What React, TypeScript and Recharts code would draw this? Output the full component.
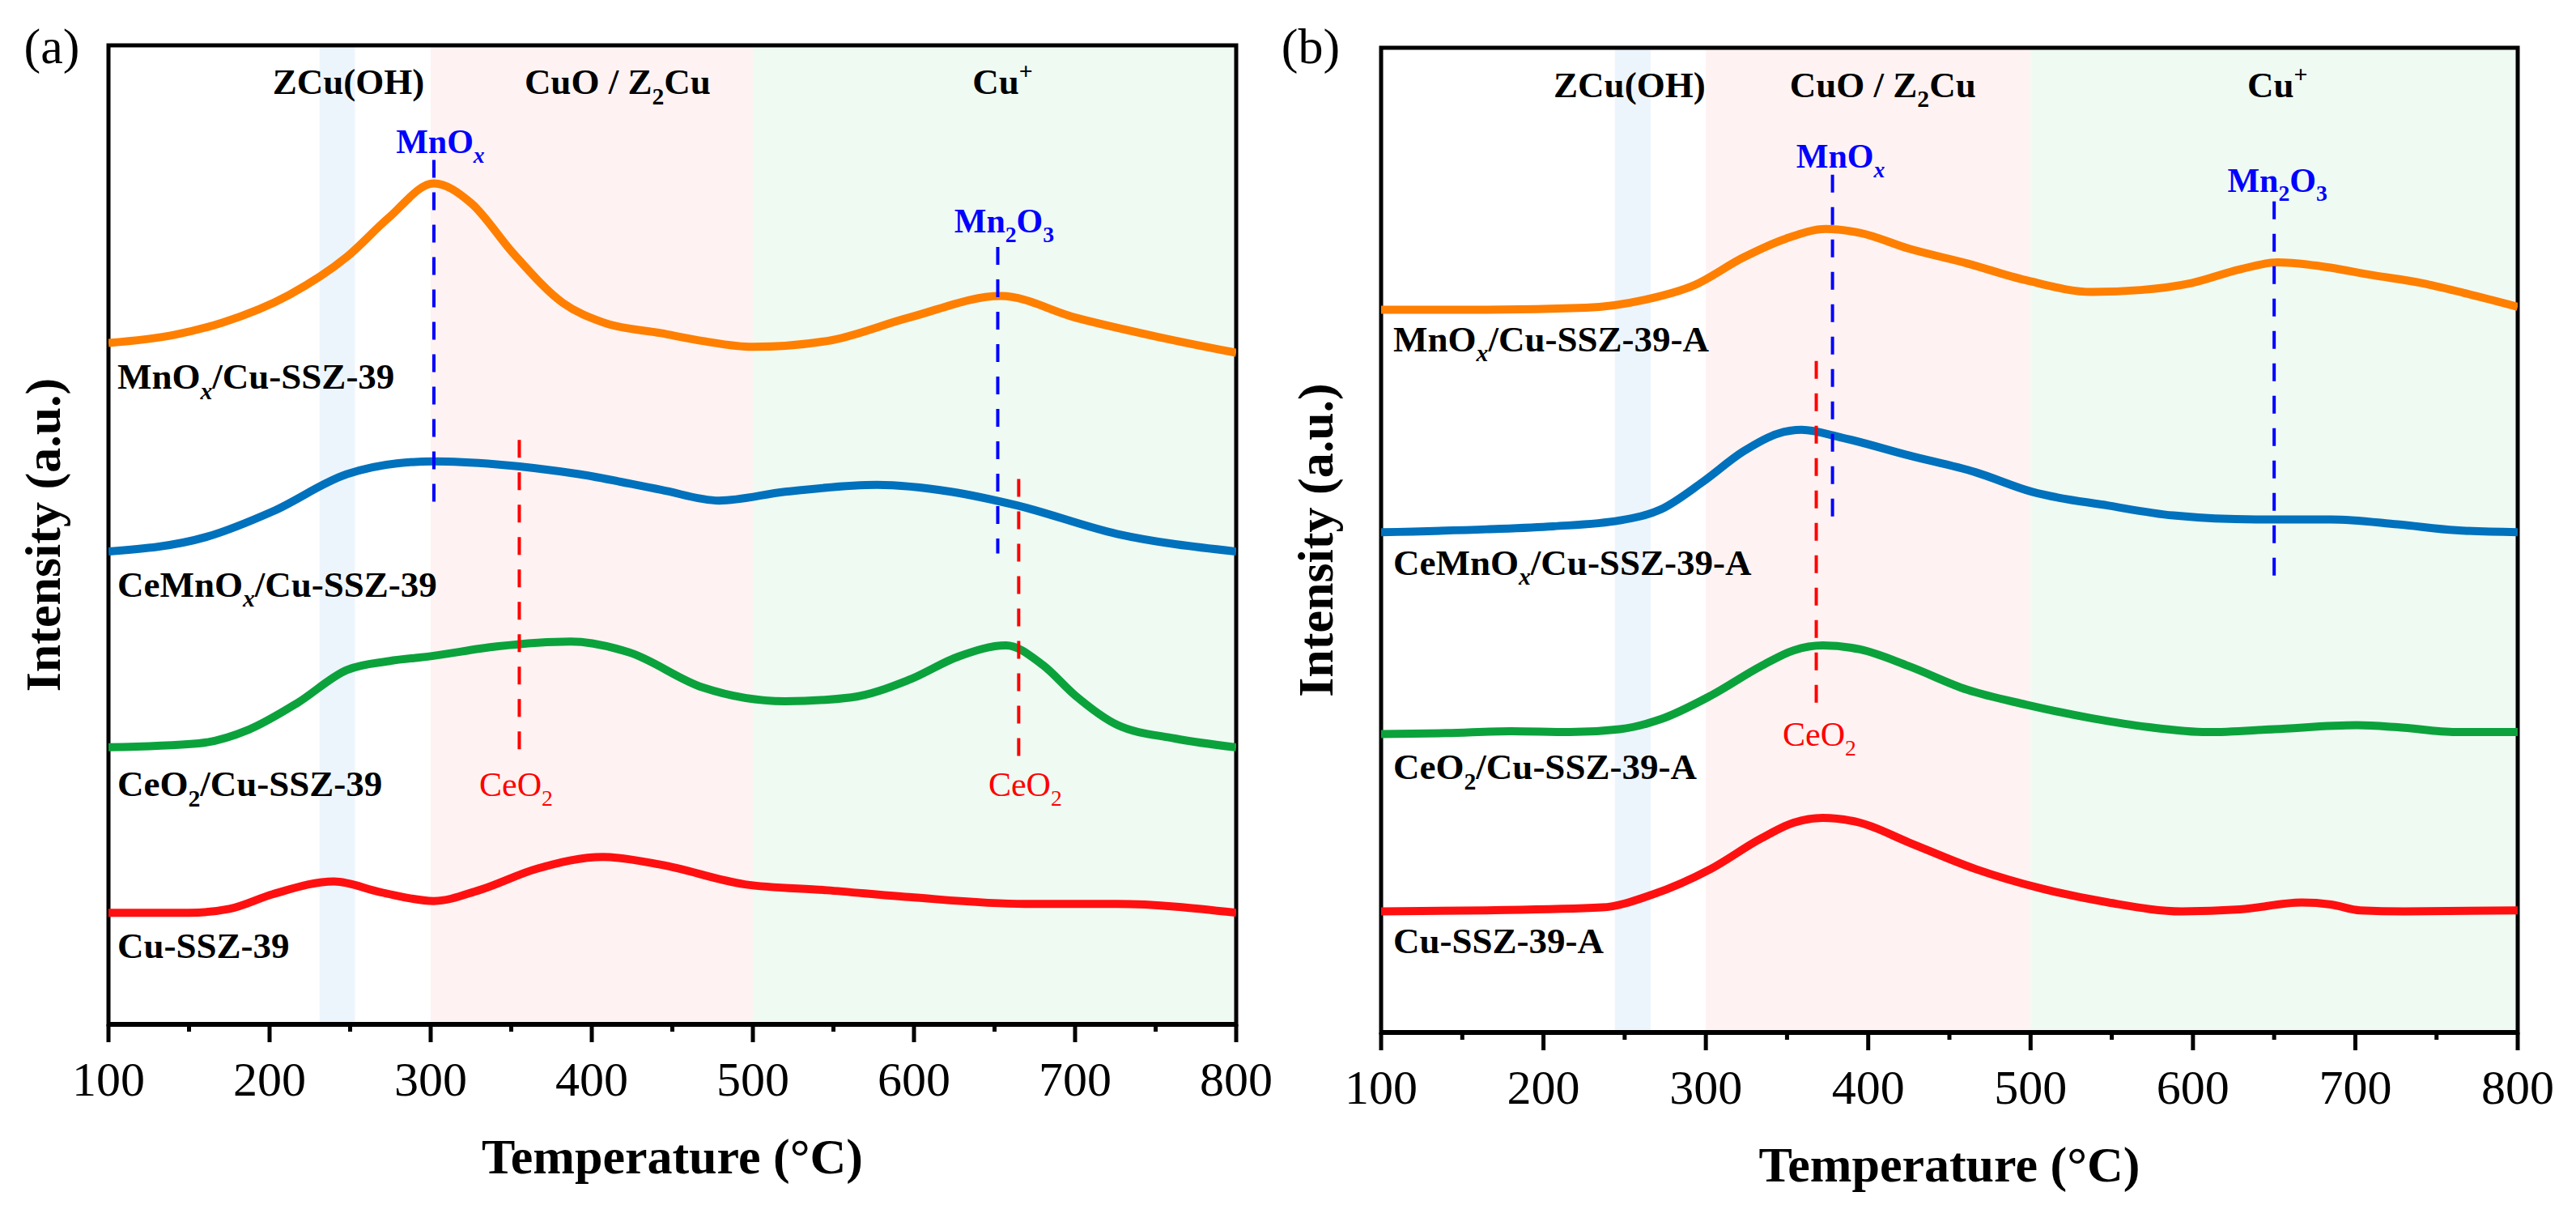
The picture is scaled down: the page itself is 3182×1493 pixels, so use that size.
import React from 'react';
import { LineChart, Line, XAxis, YAxis, ReferenceArea, ReferenceLine, ReferenceDot } from 'recharts';

type Pt = [number, number];

// ---- panel (a): temperature (°C), intensity (a.u., stacked offsets as drawn)
const mnA: Pt[] = [
  [100, 69.6], [140, 70.4], [171, 71.7], [212, 74.5], [248, 78.4], [274, 82.4], [302, 85.9], [325, 83.9],
  [351, 78.8], [382, 73.7], [407, 71.7], [443, 70.6], [469, 69.8], [500, 69.2], [546, 69.8],
  [597, 72.2], [654, 74.4], [700, 72.2], [752, 70.2], [800, 68.6],
];
const ceMnA: Pt[] = [
  [100, 48.3], [161, 49.8], [202, 52.4], [248, 56.2], [279, 57.3], [302, 57.5], [341, 57.2],
  [392, 56.2], [443, 54.6], [479, 53.5], [520, 54.4], [577, 55.1], [623, 54.4], [664, 53.0],
  [726, 50.1], [800, 48.3],
];
const ceA: Pt[] = [
  [100, 28.3], [156, 28.7], [187, 30.1], [217, 32.8], [248, 36.2], [274, 37.1], [300, 37.6],
  [341, 38.6], [387, 39.1], [423, 38.0], [469, 34.4], [520, 33.0], [561, 33.4], [597, 35.2],
  [628, 37.6], [657, 38.7], [680, 36.7], [700, 33.6], [726, 30.6], [762, 29.2], [800, 28.3],
];
const cuA: Pt[] = [
  [100, 11.4], [150, 11.4], [175, 11.8], [202, 13.3], [240, 14.6], [269, 13.5], [302, 12.6], [330, 13.7],
  [366, 15.9], [407, 17.1], [443, 16.3], [495, 14.3], [546, 13.7], [597, 13.0], [669, 12.3],
  [726, 12.3], [800, 11.4],
];

// ---- panel (b)
const mnB: Pt[] = [
  [100, 73.4], [165, 73.4], [226, 73.6], [262, 74.4], [293, 75.9], [323, 78.7], [349, 80.6],
  [374, 81.6], [395, 81.2], [425, 79.6], [461, 78.1], [497, 76.4], [538, 75.2], [568, 75.4],
  [599, 76.1], [629, 77.5], [652, 78.2], [675, 77.9], [711, 76.9], [741, 76.1], [767, 75.1],
  [800, 73.7],
];
const ceMnB: Pt[] = [
  [100, 50.8], [165, 51.1], [206, 51.4], [247, 52.0], [272, 53.1], [298, 55.9], [323, 59.0],
  [344, 60.8], [359, 61.2], [384, 60.4], [425, 58.6], [466, 56.9], [501, 54.9], [548, 53.5],
  [588, 52.5], [639, 52.1], [685, 52.1], [726, 51.6], [762, 51.0], [800, 50.8],
];
const ceB: Pt[] = [
  [100, 30.3], [140, 30.4], [180, 30.6], [216, 30.5], [247, 30.8], [272, 31.8], [303, 34.2],
  [334, 37.2], [354, 38.8], [372, 39.3], [395, 38.9], [425, 37.2], [461, 34.8], [497, 33.3],
  [538, 31.9], [573, 31.0], [609, 30.5], [650, 30.8], [701, 31.2], [726, 31.0], [762, 30.5],
  [800, 30.5],
];
const cuB: Pt[] = [
  [100, 12.3], [165, 12.4], [236, 12.7], [267, 14.0], [303, 16.6], [334, 19.7], [354, 21.3],
  [372, 21.8], [395, 21.3], [425, 19.3], [466, 16.6], [507, 14.6], [548, 13.2], [593, 12.3],
  [629, 12.5], [667, 13.2], [685, 13.0], [703, 12.4], [730, 12.3], [800, 12.4],
];

const xTicks = [100, 150, 200, 250, 300, 350, 400, 450, 500, 550, 600, 650, 700, 750, 800];
const namesA = ['MnO_{x}/Cu-SSZ-39', 'CeMnO_{x}/Cu-SSZ-39', 'CeO_{2}/Cu-SSZ-39', 'Cu-SSZ-39'];
const namesB = ['MnO_{x}/Cu-SSZ-39-A', 'CeMnO_{x}/Cu-SSZ-39-A', 'CeO_{2}/Cu-SSZ-39-A', 'Cu-SSZ-39-A'];
const regions = ['ZCu(OH)', 'CuO / Z_{2}Cu', 'Cu^{+}'];

const colors = ['#FF7F00', '#0071BC', '#0BA23C', '#FF1010'];
const FONT = "'Liberation Serif', 'Times New Roman', serif";

const parseRich = (s: string) => {
  const parts: { t: string; k: string }[] = [];
  const re = /([_^])\{([^}]*)\}/g;
  let last = 0;
  let m: RegExpExecArray | null;
  while ((m = re.exec(s))) {
    if (m.index > last) parts.push({ t: s.slice(last, m.index), k: '' });
    parts.push({ t: m[2], k: m[1] });
    last = re.lastIndex;
  }
  if (last < s.length) parts.push({ t: s.slice(last), k: '' });
  return parts;
};

const richText = (s: string, fs: number) => {
  let shift = 0;
  return parseRich(s).map((p, i) => {
    const target = p.k === '_' ? fs * 0.28 : p.k === '^' ? -fs * 0.4 : 0;
    const dy = target - shift;
    shift = target;
    return (
      <tspan key={i} dy={dy} fontSize={p.k ? fs * 0.66 : fs}
        fontStyle={p.k && /[a-z]/.test(p.t) ? 'italic' : undefined}>
        {p.t}
      </tspan>
    );
  });
};

const textShape = (s: string, fs: number, fill: string, anchor: string, weight: string) =>
  (props: any) => (
    <text x={props.cx} y={props.cy} fill={fill} fontSize={fs} fontWeight={weight}
      fontFamily={FONT} textAnchor={anchor}>
      {richText(s, fs)}
    </text>
  );

const renderTick = (props: any) => {
  const { x, y, payload } = props;
  const major = payload.value % 100 === 0;
  return (
    <g>
      <line x1={x} x2={x} y1={y} y2={y + (major ? 22 : 9)} stroke="#000" strokeWidth={5} />
      {major && (
        <text x={x} y={y + 88} textAnchor="middle" fontSize={60} fontFamily={FONT} fill="#000">
          {payload.value}
        </text>
      )}
    </g>
  );
};

const renderXLabel = (props: any) => {
  const vb = props.viewBox;
  return (
    <text x={vb.x + vb.width / 2} y={vb.y + 184} textAnchor="middle" fontSize={62}
      fontWeight="bold" fontFamily={FONT} fill="#000">
      Temperature (°C)
    </text>
  );
};

const renderYLabel = (props: any) => {
  const vb = props.viewBox;
  const cx = vb.x + vb.width - 81;
  const cy = vb.y + vb.height / 2;
  return (
    <text x={cx} y={cy} transform={`rotate(-90, ${cx}, ${cy})`} textAnchor="middle"
      dominantBaseline="central" fontSize={62} fontWeight="bold" fontFamily={FONT} fill="#000">
      Intensity (a.u.)
    </text>
  );
};

type Mark = { x: number; y1: number; y2: number; color: string };
type Note = { x: number; y: number; text: string; color: string; weight: string };

type PanelProps = {
  left: number;
  width: number;
  top: number;
  yAxisWidth: number;
  right: number;
  xAxisHeight: number;
  band: [number, number];
  series: Pt[][];
  names: string[];
  nameX: number;
  nameY: number[];
  regionX: number[];
  regionY: number;
  marks: Mark[];
  notes: Note[];
};

const Panel = (p: PanelProps) => (
  <div style={{ position: 'absolute', left: p.left, top: 0 }}>
    <LineChart width={p.width} height={1493}
      margin={{ top: p.top, right: p.right, left: 0, bottom: 0 }}>
      <ReferenceArea x1={p.band[0]} x2={p.band[1]} y1={0} y2={100} fill="#EDF5FC" fillOpacity={1} stroke="none" />
      <ReferenceArea x1={300} x2={500} y1={0} y2={100} fill="#FEF3F2" fillOpacity={1} stroke="none" />
      <ReferenceArea x1={500} x2={800} y1={0} y2={100} fill="#EFFAF3" fillOpacity={1} stroke="none" />
      <XAxis type="number" dataKey="t" domain={[100, 800]} ticks={xTicks} interval={0}
        allowDataOverflow height={p.xAxisHeight} tickSize={0} tickMargin={0} tickLine={false}
        axisLine={{ stroke: '#000', strokeWidth: 6 }} tick={renderTick} label={renderXLabel} />
      <YAxis type="number" domain={[0, 100]} allowDataOverflow width={p.yAxisWidth}
        tick={false} tickLine={false} axisLine={false} label={renderYLabel} />
      {p.series.map((s, i) => (
        <Line key={i} data={s.map(([t, v]) => ({ t, v }))} dataKey="v" type="monotone"
          stroke={colors[i]} strokeWidth={10} dot={false} activeDot={false}
          isAnimationActive={false} />
      ))}
      {p.marks.map((m, i) => (
        <ReferenceLine key={'m' + i} segment={[{ x: m.x, y: m.y1 }, { x: m.x, y: m.y2 }]}
          stroke={m.color} strokeWidth={4} strokeDasharray="22 18" ifOverflow="visible" />
      ))}
      {p.names.map((n, i) => (
        <ReferenceDot key={'n' + i} x={p.nameX} y={p.nameY[i]} r={0} ifOverflow="visible"
          shape={textShape(n, 45, '#000', 'start', 'bold')} />
      ))}
      {regions.map((r, i) => (
        <ReferenceDot key={'r' + i} x={p.regionX[i]} y={p.regionY} r={0} ifOverflow="visible"
          shape={textShape(r, 45, '#000', 'middle', 'bold')} />
      ))}
      {p.notes.map((n, i) => (
        <ReferenceDot key={'o' + i} x={n.x} y={n.y} r={0} ifOverflow="visible"
          shape={textShape(n.text, 42, n.color, 'middle', n.weight)} />
      ))}
      <ReferenceArea x1={100} x2={800} y1={0} y2={100} fill="none" stroke="#000"
        strokeWidth={5} ifOverflow="visible" />
    </LineChart>
  </div>
);

const BLUE = '#0000FF';
const RED = '#FF0000';

export default function App() {
  return (
    <div style={{ position: 'absolute', left: 0, top: 0, width: 3182, height: 1493, background: '#fff', overflow: 'hidden' }}>
      <Panel
        left={0} width={1590} top={56} yAxisWidth={134} right={63} xAxisHeight={228}
        band={[231, 253]}
        series={[mnA, ceMnA, ceA, cuA]}
        names={namesA} nameX={105.5} nameY={[64.9, 43.7, 23.3, 6.8]}
        regionX={[249, 416, 655]} regionY={95}
        marks={[
          { x: 302, y1: 88.3, y2: 53.2, color: BLUE },
          { x: 652, y1: 79.4, y2: 48.1, color: BLUE },
          { x: 355, y1: 59.7, y2: 27.7, color: RED },
          { x: 665, y1: 55.7, y2: 26.8, color: RED },
        ]}
        notes={[
          { x: 306, y: 89.0, text: 'MnO_{x}', color: BLUE, weight: 'bold' },
          { x: 656, y: 80.9, text: 'Mn_{2}O_{3}', color: BLUE, weight: 'bold' },
          { x: 353, y: 23.3, text: 'CeO_{2}', color: RED, weight: 'normal' },
          { x: 669, y: 23.3, text: 'CeO_{2}', color: RED, weight: 'normal' },
        ]}
      />
      <Panel
        left={1580} width={1602} top={59} yAxisWidth={126} right={72} xAxisHeight={218}
        band={[244, 266]}
        series={[mnB, ceMnB, ceB, cuB]}
        names={namesB} nameX={107.5} nameY={[69.2, 46.5, 25.7, 8.1]}
        regionX={[253, 409, 652]} regionY={95}
        marks={[
          { x: 378, y1: 87.1, y2: 52.0, color: BLUE },
          { x: 650, y1: 84.4, y2: 45.3, color: BLUE },
          { x: 368, y1: 68.2, y2: 33.5, color: RED },
        ]}
        notes={[
          { x: 383, y: 87.8, text: 'MnO_{x}', color: BLUE, weight: 'bold' },
          { x: 652, y: 85.4, text: 'Mn_{2}O_{3}', color: BLUE, weight: 'bold' },
          { x: 370, y: 29.1, text: 'CeO_{2}', color: RED, weight: 'normal' },
        ]}
      />
      <svg width={3182} height={1493} style={{ position: 'absolute', left: 0, top: 0, pointerEvents: 'none' }}>
        <text x={64} y={78} textAnchor="middle" fontSize={62} fontFamily={FONT} fill="#000">(a)</text>
        <text x={1619} y={78} textAnchor="middle" fontSize={62} fontFamily={FONT} fill="#000">(b)</text>
      </svg>
    </div>
  );
}
